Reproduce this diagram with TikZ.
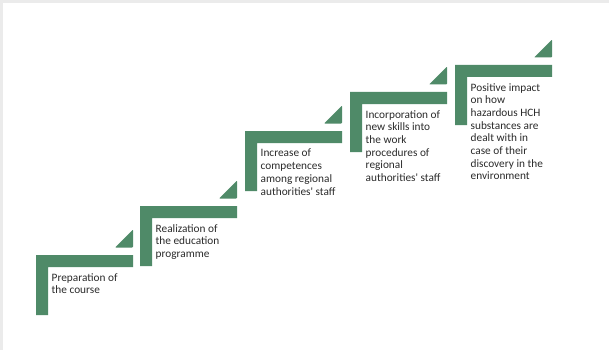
\documentclass[tikz,border=0pt]{standalone}
\usepackage{fontspec}
\setmainfont{Carlito}
\definecolor{stepgreen}{HTML}{4F8A68}
\definecolor{textgray}{HTML}{2B2B2B}
\definecolor{framegray}{HTML}{EBEBEB}
\tikzset{
  steptext/.style={font=\fontsize{11.3}{12.7}\selectfont, align=left, inner sep=0pt, text=textgray, anchor=north west},
  stepfill/.style={fill=stepgreen},
  arrowtri/.style={fill=stepgreen, rounded corners=0.8pt}
}
\begin{document}
\begin{tikzpicture}[x=1pt,y=-1pt]
\fill[framegray] (0,0) rectangle (609,350);
\fill[white] (3,3) rectangle (609,350);
\useasboundingbox (0,0) rectangle (609,350);
\foreach \L/\T in {36/255, 140/206, 245/131, 350/92, 455/65}{
  \fill[stepfill] (\L,\T) -- ({\L+97},\T) -- ({\L+97},{\T+12}) -- ({\L+12},{\T+12}) -- ({\L+12},{\T+60}) -- (\L,{\T+60}) -- cycle;
  \fill[arrowtri] ({\L+79},{\T-7.5}) -- ({\L+97},{\T-25.5}) -- ({\L+97},{\T-7.5}) -- cycle;
}
\node[steptext] (s1) at (51.5,273) {Preparation of\\the course};
\node[steptext] (s2) at (155.5,224) {Realization of\\the education\\programme};
\node[steptext] (s3) at (260.5,149) {Increase of\\competences\\among regional\\authorities\textquotesingle{} staff};
\node[steptext] (s4) at (365.5,110) {Incorporation of\\new skills into\\the work\\procedures of\\regional\\authorities\textquotesingle{} staff};
\node[steptext] (s5) at (470.5,83) {Positive impact\\on how\\hazardous HCH\\substances are\\dealt with in\\case of their\\discovery in the\\environment};
\end{tikzpicture}
\end{document}
